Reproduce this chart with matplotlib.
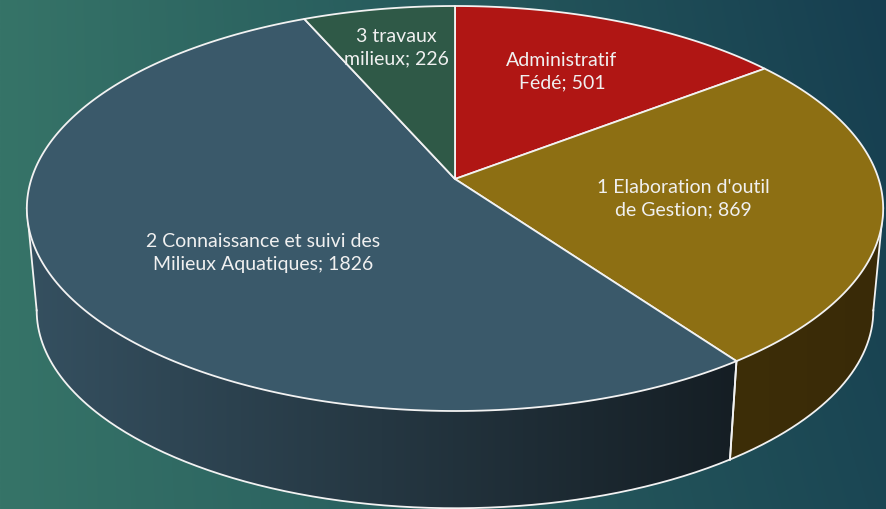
import numpy as np
import matplotlib
matplotlib.use("Agg")
import matplotlib.pyplot as plt
from matplotlib.patches import Polygon
from matplotlib.colors import to_rgb

# ---- data ----
categories = ["Administratif\nFédé", "1 Elaboration d'outil\nde Gestion",
              "2 Connaissance et suivi des\nMilieux Aquatiques", "3 travaux\nmilieux"]
values = [501, 869, 1826, 226]
top_colors = ["#b01614", "#8d6f13", "#3a596a", "#2f5947"]
side_left = ["#6a0d0c", "#3d2e08", "#355060", "#1e3a2e"]
side_right = ["#5a0b0a", "#392a07", "#151e24", "#1a3228"]

# ---- layout ----
W, H = 887, 510
cx, cy = 455, 180          # apex of the pie on the top face
A, B, k = 423.6, 198.2, 0.1457
V = (455.0, 4640.0)        # vanishing point of the side walls
s = 0.977
label_pos = [(562, 72), (683, 199), (263, 253), (396, 48)]

fig = plt.figure(figsize=(W / 100, H / 100), dpi=100)
ax = fig.add_axes([0, 0, 1, 1])
ax.set_xlim(0, W)
ax.set_ylim(H, 0)
ax.axis('off')

# background gradient
xx = np.linspace(0, 1, 400)
yy = np.linspace(0, 1, 200)
X, Y = np.meshgrid(xx, yy)
t = np.clip(0.85 * X + 0.15 * (1 - Y) * X, 0, 1)
c0 = np.array([54, 116, 104]) / 255
c1 = np.array([22, 62, 80]) / 255
bg = c0[None, None, :] * (1 - t[..., None]) + c1[None, None, :] * t[..., None]
ax.imshow(bg, extent=[0, W, H, 0], aspect='auto', zorder=0, interpolation='bilinear')


def top_pt(theta_deg, r=1.0):
    th = np.radians(theta_deg)
    u, w = r * np.sin(th), r * np.cos(th)
    d = 1 + k * w
    return cx + A * u / d, cy - B * w / d


def bot_pt(theta_deg):
    x, y = top_pt(theta_deg)
    return V[0] + s * (x - V[0]), V[1] + s * (y - V[1])


total = sum(values)
cum = np.concatenate([[0], np.cumsum(values)]) / total * 360.0
th_r = np.degrees(np.arccos(-k))
th_l = 360 - th_r
edge = "#f2f2f2"
lw = 1.3

# side walls
for i in range(len(values)):
    a0, a1 = max(cum[i], th_r), min(cum[i + 1], th_l)
    if a1 <= a0:
        continue
    ths = np.linspace(a0, a1, 200)
    top = np.array([top_pt(t) for t in ths])
    bot = np.array([bot_pt(t) for t in ths])
    poly = np.vstack([top, bot[::-1]])
    p = Polygon(poly, closed=True, facecolor='none', edgecolor='none', zorder=2)
    ax.add_patch(p)
    xmin, xmax = poly[:, 0].min(), poly[:, 0].max()
    g = np.linspace(0, 1, 256)[None, :, None]
    cl, cr = np.array(to_rgb(side_left[i])), np.array(to_rgb(side_right[i]))
    img = cl * (1 - g) + cr * g
    im = ax.imshow(img, extent=[xmin, xmax, poly[:, 1].max(), poly[:, 1].min()],
                   aspect='auto', zorder=2, interpolation='bilinear')
    im.set_clip_path(p)
    ax.plot(bot[:, 0], bot[:, 1], color=edge, lw=lw, zorder=3)
    for a in (a0, a1):
        x0, y0 = top_pt(a)
        x1, y1 = bot_pt(a)
        ax.plot([x0, x1], [y0, y1], color=edge, lw=lw, zorder=3)

# top faces
for i in range(len(values)):
    ths = np.linspace(cum[i], cum[i + 1], 200)
    arc = np.array([top_pt(t) for t in ths])
    poly = np.vstack([[cx, cy], arc])
    ax.add_patch(Polygon(poly, closed=True, facecolor=top_colors[i],
                         edgecolor=edge, lw=lw, joinstyle='round', zorder=4))

# labels
for i, (cat, v) in enumerate(zip(categories, values)):
    x, y = label_pos[i]
    ax.text(x, y, f"{cat}; {v}", ha='center', va='center', color='#f0f0f0',
            fontsize=14, family='Lato', linespacing=1.4, zorder=5)

fig.savefig("out.png", dpi=100)
